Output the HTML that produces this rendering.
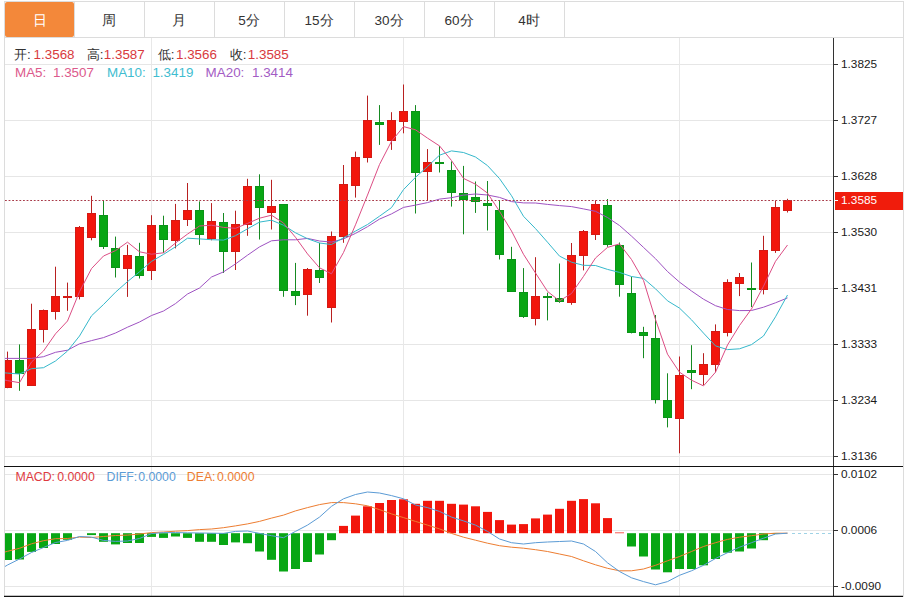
<!DOCTYPE html>
<html><head><meta charset="utf-8">
<style>
html,body{margin:0;padding:0;background:#fff;width:917px;height:597px;overflow:hidden;font-family:"Liberation Sans",sans-serif;}
#tabs{position:absolute;left:4px;top:1px;width:900px;height:37px;border:1px solid #dcdcdc;border-bottom:1px solid #dcdcdc;box-sizing:border-box;}
.tab{position:absolute;top:2px;height:35px;line-height:38px;text-align:center;font-size:13.5px;color:#333;}
.tab.act{background:#f3883a;color:#fff;border-radius:2px;}
.sep{position:absolute;top:1px;width:1px;height:37px;background:#dcdcdc;}
#frame{position:absolute;left:4px;top:37px;width:900px;height:560px;border-left:1px solid #dcdcdc;border-right:1px solid #dcdcdc;box-sizing:border-box;}
svg{position:absolute;left:0;top:0;}
svg text{font-family:"Liberation Sans",sans-serif;}
.lg{position:absolute;font-size:13px;white-space:nowrap;}
</style></head><body>
<div id="frame"></div>
<div id="tabs"></div>
<div class="tab act" style="left:5px;width:69px">日</div><div class="sep" style="left:74px"></div><div class="tab" style="left:74px;width:70px">周</div><div class="sep" style="left:144px"></div><div class="tab" style="left:144px;width:70px">月</div><div class="sep" style="left:214px"></div><div class="tab" style="left:214px;width:70px">5分</div><div class="sep" style="left:284px"></div><div class="tab" style="left:284px;width:70px">15分</div><div class="sep" style="left:354px"></div><div class="tab" style="left:354px;width:70px">30分</div><div class="sep" style="left:424px"></div><div class="tab" style="left:424px;width:70px">60分</div><div class="sep" style="left:494px"></div><div class="tab" style="left:494px;width:70px">4时</div><div class="sep" style="left:564px"></div>
<svg width="917" height="597" viewBox="0 0 917 597">
<line x1="5" y1="64.5" x2="833" y2="64.5" stroke="#e6e6e6" stroke-width="1"/>
<line x1="5" y1="120.5" x2="833" y2="120.5" stroke="#e6e6e6" stroke-width="1"/>
<line x1="5" y1="176.5" x2="833" y2="176.5" stroke="#e6e6e6" stroke-width="1"/>
<line x1="5" y1="232.5" x2="833" y2="232.5" stroke="#e6e6e6" stroke-width="1"/>
<line x1="5" y1="288.5" x2="833" y2="288.5" stroke="#e6e6e6" stroke-width="1"/>
<line x1="5" y1="344.5" x2="833" y2="344.5" stroke="#e6e6e6" stroke-width="1"/>
<line x1="5" y1="400.5" x2="833" y2="400.5" stroke="#e6e6e6" stroke-width="1"/>
<line x1="5" y1="456.5" x2="833" y2="456.5" stroke="#e6e6e6" stroke-width="1"/>
<line x1="5" y1="474.5" x2="833" y2="474.5" stroke="#e6e6e6" stroke-width="1"/>
<line x1="5" y1="530.5" x2="833" y2="530.5" stroke="#e6e6e6" stroke-width="1"/>
<line x1="5" y1="586.5" x2="833" y2="586.5" stroke="#e6e6e6" stroke-width="1"/>
<line x1="151.5" y1="38" x2="151.5" y2="596" stroke="#e8e8e8" stroke-width="1"/>
<line x1="403.5" y1="38" x2="403.5" y2="596" stroke="#e8e8e8" stroke-width="1"/>
<line x1="679.5" y1="38" x2="679.5" y2="596" stroke="#e8e8e8" stroke-width="1"/>
<line x1="7.5" y1="351.6" x2="7.5" y2="388.2" stroke="#b82020" stroke-width="1"/>
<rect x="5.5" y="360.5" width="6.0" height="27" fill="#f2160c" stroke="#d41a14" stroke-width="1"/>
<line x1="19.5" y1="344.4" x2="19.5" y2="390.8" stroke="#168a22" stroke-width="1"/>
<rect x="15.5" y="360.5" width="8.0" height="13" fill="#08a614" stroke="#0a9418" stroke-width="1"/>
<line x1="31.5" y1="303.7" x2="31.5" y2="385.6" stroke="#b82020" stroke-width="1"/>
<rect x="27.5" y="329.5" width="8.0" height="56" fill="#f2160c" stroke="#d41a14" stroke-width="1"/>
<line x1="43.5" y1="309.5" x2="43.5" y2="342.5" stroke="#b82020" stroke-width="1"/>
<rect x="39.5" y="310.5" width="8.0" height="19" fill="#f2160c" stroke="#d41a14" stroke-width="1"/>
<line x1="55.5" y1="266.7" x2="55.5" y2="319.6" stroke="#b82020" stroke-width="1"/>
<rect x="51.5" y="296.5" width="8.0" height="15" fill="#f2160c" stroke="#d41a14" stroke-width="1"/>
<line x1="67.5" y1="282.6" x2="67.5" y2="310.8" stroke="#b82020" stroke-width="1"/>
<rect x="63.5" y="296.5" width="8.0" height="1" fill="#f2160c" stroke="#d41a14" stroke-width="1"/>
<line x1="79.5" y1="226.0" x2="79.5" y2="299.4" stroke="#b82020" stroke-width="1"/>
<rect x="75.5" y="227.5" width="8.0" height="69" fill="#f2160c" stroke="#d41a14" stroke-width="1"/>
<line x1="91.5" y1="195.8" x2="91.5" y2="240.3" stroke="#b82020" stroke-width="1"/>
<rect x="87.5" y="213.5" width="8.0" height="24" fill="#f2160c" stroke="#d41a14" stroke-width="1"/>
<line x1="103.5" y1="200.0" x2="103.5" y2="249.0" stroke="#168a22" stroke-width="1"/>
<rect x="99.5" y="215.5" width="8.0" height="31" fill="#08a614" stroke="#0a9418" stroke-width="1"/>
<line x1="115.5" y1="236.6" x2="115.5" y2="277.5" stroke="#168a22" stroke-width="1"/>
<rect x="111.5" y="248.5" width="8.0" height="19" fill="#08a614" stroke="#0a9418" stroke-width="1"/>
<line x1="127.5" y1="244.9" x2="127.5" y2="296.9" stroke="#b82020" stroke-width="1"/>
<rect x="123.5" y="255.5" width="8.0" height="13" fill="#f2160c" stroke="#d41a14" stroke-width="1"/>
<line x1="139.5" y1="242.8" x2="139.5" y2="278.5" stroke="#168a22" stroke-width="1"/>
<rect x="135.5" y="256.5" width="8.0" height="19" fill="#08a614" stroke="#0a9418" stroke-width="1"/>
<line x1="151.5" y1="215.2" x2="151.5" y2="280.0" stroke="#b82020" stroke-width="1"/>
<rect x="147.5" y="225.5" width="8.0" height="45" fill="#f2160c" stroke="#d41a14" stroke-width="1"/>
<line x1="163.5" y1="215.7" x2="163.5" y2="252.9" stroke="#168a22" stroke-width="1"/>
<rect x="159.5" y="225.5" width="8.0" height="14" fill="#08a614" stroke="#0a9418" stroke-width="1"/>
<line x1="175.5" y1="203.9" x2="175.5" y2="248.4" stroke="#b82020" stroke-width="1"/>
<rect x="171.5" y="220.5" width="8.0" height="20" fill="#f2160c" stroke="#d41a14" stroke-width="1"/>
<line x1="187.5" y1="183.0" x2="187.5" y2="226.0" stroke="#b82020" stroke-width="1"/>
<rect x="183.5" y="210.5" width="8.0" height="9" fill="#f2160c" stroke="#d41a14" stroke-width="1"/>
<line x1="199.5" y1="201.4" x2="199.5" y2="244.9" stroke="#168a22" stroke-width="1"/>
<rect x="195.5" y="210.5" width="8.0" height="24" fill="#08a614" stroke="#0a9418" stroke-width="1"/>
<line x1="211.5" y1="203.1" x2="211.5" y2="240.3" stroke="#b82020" stroke-width="1"/>
<rect x="207.5" y="221.5" width="8.0" height="17" fill="#f2160c" stroke="#d41a14" stroke-width="1"/>
<line x1="223.5" y1="213.0" x2="223.5" y2="273.0" stroke="#168a22" stroke-width="1"/>
<rect x="219.5" y="222.5" width="8.0" height="29" fill="#08a614" stroke="#0a9418" stroke-width="1"/>
<line x1="235.5" y1="210.7" x2="235.5" y2="270.0" stroke="#b82020" stroke-width="1"/>
<rect x="231.5" y="224.5" width="8.0" height="27" fill="#f2160c" stroke="#d41a14" stroke-width="1"/>
<line x1="247.5" y1="178.8" x2="247.5" y2="235.8" stroke="#b82020" stroke-width="1"/>
<rect x="243.5" y="186.5" width="8.0" height="38" fill="#f2160c" stroke="#d41a14" stroke-width="1"/>
<line x1="259.5" y1="174.3" x2="259.5" y2="239.5" stroke="#168a22" stroke-width="1"/>
<rect x="255.5" y="186.5" width="8.0" height="21" fill="#08a614" stroke="#0a9418" stroke-width="1"/>
<line x1="271.5" y1="179.8" x2="271.5" y2="229.5" stroke="#b82020" stroke-width="1"/>
<rect x="267.5" y="206.5" width="8.0" height="6" fill="#f2160c" stroke="#d41a14" stroke-width="1"/>
<line x1="283.5" y1="204.0" x2="283.5" y2="296.8" stroke="#168a22" stroke-width="1"/>
<rect x="279.5" y="204.5" width="8.0" height="86" fill="#08a614" stroke="#0a9418" stroke-width="1"/>
<line x1="295.5" y1="262.9" x2="295.5" y2="305.1" stroke="#168a22" stroke-width="1"/>
<rect x="291.5" y="291.5" width="8.0" height="4" fill="#08a614" stroke="#0a9418" stroke-width="1"/>
<line x1="307.5" y1="268.0" x2="307.5" y2="315.7" stroke="#b82020" stroke-width="1"/>
<rect x="303.5" y="269.5" width="8.0" height="25" fill="#f2160c" stroke="#d41a14" stroke-width="1"/>
<line x1="319.5" y1="242.8" x2="319.5" y2="283.0" stroke="#168a22" stroke-width="1"/>
<rect x="315.5" y="270.5" width="8.0" height="7" fill="#08a614" stroke="#0a9418" stroke-width="1"/>
<line x1="331.5" y1="231.5" x2="331.5" y2="322.5" stroke="#b82020" stroke-width="1"/>
<rect x="327.5" y="236.5" width="8.0" height="71" fill="#f2160c" stroke="#d41a14" stroke-width="1"/>
<line x1="343.5" y1="165.0" x2="343.5" y2="242.8" stroke="#b82020" stroke-width="1"/>
<rect x="339.5" y="184.5" width="8.0" height="52" fill="#f2160c" stroke="#d41a14" stroke-width="1"/>
<line x1="355.5" y1="151.6" x2="355.5" y2="197.6" stroke="#b82020" stroke-width="1"/>
<rect x="351.5" y="157.5" width="8.0" height="28" fill="#f2160c" stroke="#d41a14" stroke-width="1"/>
<line x1="367.5" y1="95.6" x2="367.5" y2="162.5" stroke="#b82020" stroke-width="1"/>
<rect x="363.5" y="120.5" width="8.0" height="37" fill="#f2160c" stroke="#d41a14" stroke-width="1"/>
<line x1="379.5" y1="105.1" x2="379.5" y2="144.9" stroke="#168a22" stroke-width="1"/>
<rect x="375.5" y="122.5" width="8.0" height="2" fill="#08a614" stroke="#0a9418" stroke-width="1"/>
<line x1="391.5" y1="112.2" x2="391.5" y2="149.9" stroke="#b82020" stroke-width="1"/>
<rect x="387.5" y="120.5" width="8.0" height="20" fill="#f2160c" stroke="#d41a14" stroke-width="1"/>
<line x1="403.5" y1="84.5" x2="403.5" y2="133.3" stroke="#b82020" stroke-width="1"/>
<rect x="399.5" y="111.5" width="8.0" height="10" fill="#f2160c" stroke="#d41a14" stroke-width="1"/>
<line x1="415.5" y1="105.1" x2="415.5" y2="213.5" stroke="#168a22" stroke-width="1"/>
<rect x="411.5" y="111.5" width="8.0" height="61" fill="#08a614" stroke="#0a9418" stroke-width="1"/>
<line x1="427.5" y1="149.1" x2="427.5" y2="200.5" stroke="#b82020" stroke-width="1"/>
<rect x="423.5" y="162.5" width="8.0" height="9" fill="#f2160c" stroke="#d41a14" stroke-width="1"/>
<line x1="439.5" y1="145.9" x2="439.5" y2="172.5" stroke="#168a22" stroke-width="1"/>
<rect x="435.5" y="162.5" width="8.0" height="1" fill="#08a614" stroke="#0a9418" stroke-width="1"/>
<line x1="451.5" y1="161.4" x2="451.5" y2="206.6" stroke="#168a22" stroke-width="1"/>
<rect x="447.5" y="170.5" width="8.0" height="22" fill="#08a614" stroke="#0a9418" stroke-width="1"/>
<line x1="463.5" y1="165.9" x2="463.5" y2="234.3" stroke="#168a22" stroke-width="1"/>
<rect x="459.5" y="193.5" width="8.0" height="6" fill="#08a614" stroke="#0a9418" stroke-width="1"/>
<line x1="475.5" y1="181.5" x2="475.5" y2="212.9" stroke="#168a22" stroke-width="1"/>
<rect x="471.5" y="197.5" width="8.0" height="4" fill="#08a614" stroke="#0a9418" stroke-width="1"/>
<line x1="487.5" y1="181.0" x2="487.5" y2="230.5" stroke="#168a22" stroke-width="1"/>
<rect x="483.5" y="203.5" width="8.0" height="2" fill="#08a614" stroke="#0a9418" stroke-width="1"/>
<line x1="499.5" y1="200.3" x2="499.5" y2="259.5" stroke="#168a22" stroke-width="1"/>
<rect x="495.5" y="210.5" width="8.0" height="44" fill="#08a614" stroke="#0a9418" stroke-width="1"/>
<line x1="511.5" y1="246.8" x2="511.5" y2="292.0" stroke="#168a22" stroke-width="1"/>
<rect x="507.5" y="259.5" width="8.0" height="32" fill="#08a614" stroke="#0a9418" stroke-width="1"/>
<line x1="523.5" y1="268.1" x2="523.5" y2="317.9" stroke="#168a22" stroke-width="1"/>
<rect x="519.5" y="292.5" width="8.0" height="24" fill="#08a614" stroke="#0a9418" stroke-width="1"/>
<line x1="535.5" y1="257.2" x2="535.5" y2="325.4" stroke="#b82020" stroke-width="1"/>
<rect x="531.5" y="296.5" width="8.0" height="22" fill="#f2160c" stroke="#d41a14" stroke-width="1"/>
<line x1="547.5" y1="292.7" x2="547.5" y2="320.4" stroke="#168a22" stroke-width="1"/>
<rect x="543.5" y="296.5" width="8.0" height="1" fill="#08a614" stroke="#0a9418" stroke-width="1"/>
<line x1="559.5" y1="263.5" x2="559.5" y2="302.8" stroke="#168a22" stroke-width="1"/>
<rect x="555.5" y="298.5" width="8.0" height="3" fill="#08a614" stroke="#0a9418" stroke-width="1"/>
<line x1="571.5" y1="243.0" x2="571.5" y2="304.8" stroke="#b82020" stroke-width="1"/>
<rect x="567.5" y="255.5" width="8.0" height="47" fill="#f2160c" stroke="#d41a14" stroke-width="1"/>
<line x1="583.5" y1="230.0" x2="583.5" y2="270.4" stroke="#b82020" stroke-width="1"/>
<rect x="579.5" y="231.5" width="8.0" height="24" fill="#f2160c" stroke="#d41a14" stroke-width="1"/>
<line x1="595.5" y1="200.3" x2="595.5" y2="240.0" stroke="#b82020" stroke-width="1"/>
<rect x="591.5" y="204.5" width="8.0" height="30" fill="#f2160c" stroke="#d41a14" stroke-width="1"/>
<line x1="607.5" y1="199.0" x2="607.5" y2="246.8" stroke="#168a22" stroke-width="1"/>
<rect x="603.5" y="205.5" width="8.0" height="39" fill="#08a614" stroke="#0a9418" stroke-width="1"/>
<line x1="619.5" y1="242.5" x2="619.5" y2="296.7" stroke="#168a22" stroke-width="1"/>
<rect x="615.5" y="245.5" width="8.0" height="39" fill="#08a614" stroke="#0a9418" stroke-width="1"/>
<line x1="631.5" y1="276.6" x2="631.5" y2="333.4" stroke="#168a22" stroke-width="1"/>
<rect x="627.5" y="293.5" width="8.0" height="39" fill="#08a614" stroke="#0a9418" stroke-width="1"/>
<line x1="643.5" y1="326.8" x2="643.5" y2="358.2" stroke="#168a22" stroke-width="1"/>
<rect x="639.5" y="332.5" width="8.0" height="3" fill="#08a614" stroke="#0a9418" stroke-width="1"/>
<line x1="655.5" y1="315.0" x2="655.5" y2="403.5" stroke="#168a22" stroke-width="1"/>
<rect x="651.5" y="338.5" width="8.0" height="61" fill="#08a614" stroke="#0a9418" stroke-width="1"/>
<line x1="667.5" y1="373.3" x2="667.5" y2="427.4" stroke="#168a22" stroke-width="1"/>
<rect x="663.5" y="400.5" width="8.0" height="17" fill="#08a614" stroke="#0a9418" stroke-width="1"/>
<line x1="679.5" y1="356.5" x2="679.5" y2="453.3" stroke="#b82020" stroke-width="1"/>
<rect x="675.5" y="375.5" width="8.0" height="43" fill="#f2160c" stroke="#d41a14" stroke-width="1"/>
<line x1="691.5" y1="345.2" x2="691.5" y2="389.2" stroke="#168a22" stroke-width="1"/>
<rect x="687.5" y="370.5" width="8.0" height="2" fill="#08a614" stroke="#0a9418" stroke-width="1"/>
<line x1="703.5" y1="353.2" x2="703.5" y2="385.0" stroke="#b82020" stroke-width="1"/>
<rect x="699.5" y="364.5" width="8.0" height="10" fill="#f2160c" stroke="#d41a14" stroke-width="1"/>
<line x1="715.5" y1="324.4" x2="715.5" y2="372.3" stroke="#b82020" stroke-width="1"/>
<rect x="711.5" y="331.5" width="8.0" height="33" fill="#f2160c" stroke="#d41a14" stroke-width="1"/>
<line x1="727.5" y1="279.3" x2="727.5" y2="336.4" stroke="#b82020" stroke-width="1"/>
<rect x="723.5" y="282.5" width="8.0" height="50" fill="#f2160c" stroke="#d41a14" stroke-width="1"/>
<line x1="739.5" y1="273.0" x2="739.5" y2="296.1" stroke="#b82020" stroke-width="1"/>
<rect x="735.5" y="277.5" width="8.0" height="6" fill="#f2160c" stroke="#d41a14" stroke-width="1"/>
<line x1="751.5" y1="262.5" x2="751.5" y2="307.0" stroke="#168a22" stroke-width="1"/>
<rect x="747.5" y="288.5" width="8.0" height="1" fill="#08a614" stroke="#0a9418" stroke-width="1"/>
<line x1="763.5" y1="235.8" x2="763.5" y2="294.4" stroke="#b82020" stroke-width="1"/>
<rect x="759.5" y="250.5" width="8.0" height="39" fill="#f2160c" stroke="#d41a14" stroke-width="1"/>
<line x1="775.5" y1="200.6" x2="775.5" y2="252.9" stroke="#b82020" stroke-width="1"/>
<rect x="771.5" y="207.5" width="8.0" height="43" fill="#f2160c" stroke="#d41a14" stroke-width="1"/>
<line x1="787.5" y1="198.8" x2="787.5" y2="212.5" stroke="#b82020" stroke-width="1"/>
<rect x="783.5" y="200.5" width="8.0" height="10" fill="#f2160c" stroke="#d41a14" stroke-width="1"/>
<polyline points="5,358.4 7.5,358.4 19.5,358.4 31.5,358.4 43.5,356.7 55.5,352.3 67.5,350.2 79.5,343.8 91.5,340.6 103.5,337.6 115.5,333.0 127.5,327.2 139.5,322.0 151.5,315.5 163.5,311.0 175.5,303.6 187.5,294.0 199.5,288.0 211.5,277.0 223.5,271.9 235.5,263.9 247.5,255.2 259.5,246.9 271.5,240.8 283.5,239.8 295.5,239.8 307.5,238.4 319.5,241.0 331.5,242.1 343.5,238.9 355.5,233.4 367.5,226.7 379.5,219.1 391.5,213.9 403.5,207.4 415.5,205.1 427.5,202.6 439.5,199.1 451.5,197.7 463.5,195.1 475.5,194.0 487.5,195.0 499.5,197.4 511.5,201.6 523.5,202.9 535.5,203.0 547.5,204.4 559.5,205.6 571.5,206.6 583.5,208.9 595.5,211.3 607.5,217.5 619.5,225.5 631.5,236.1 643.5,247.4 655.5,258.7 667.5,271.5 679.5,282.1 691.5,291.0 703.5,299.2 715.5,305.7 727.5,309.5 739.5,310.6 751.5,310.5 763.5,307.2 775.5,302.8 787.5,297.9" fill="none" stroke="#9e52c2" stroke-width="1.0" stroke-linejoin="round"/>
<polyline points="5,372.9 7.5,373.1 19.5,374.0 31.5,368.7 43.5,367.7 55.5,361.0 67.5,351.0 79.5,336.0 91.5,315.8 103.5,304.5 115.5,292.2 127.5,281.6 139.5,271.8 151.5,261.4 163.5,254.4 175.5,246.8 187.5,238.2 199.5,238.9 211.5,239.7 223.5,240.1 235.5,235.7 247.5,228.8 259.5,222.1 271.5,220.2 283.5,225.2 295.5,232.8 307.5,238.7 319.5,243.0 331.5,244.5 343.5,237.8 355.5,231.1 367.5,224.5 379.5,216.2 391.5,207.6 403.5,189.6 415.5,177.3 427.5,166.6 439.5,155.2 451.5,150.9 463.5,152.5 475.5,157.0 487.5,165.6 499.5,178.6 511.5,195.7 523.5,216.3 535.5,228.6 547.5,242.2 559.5,256.1 571.5,262.2 583.5,265.3 595.5,265.5 607.5,269.4 619.5,272.4 631.5,276.5 643.5,278.4 655.5,288.8 667.5,300.8 679.5,308.1 691.5,319.8 703.5,333.1 715.5,345.9 727.5,349.6 739.5,348.8 751.5,344.6 763.5,336.0 775.5,316.8 787.5,295.0" fill="none" stroke="#35b8cb" stroke-width="1.0" stroke-linejoin="round"/>
<polyline points="5,380.1 7.5,380.6 19.5,382.7 31.5,362.0 43.5,351.0 55.5,333.8 67.5,321.0 79.5,291.7 91.5,268.6 103.5,256.0 115.5,250.6 127.5,242.2 139.5,251.8 151.5,254.2 163.5,252.8 175.5,243.0 187.5,234.1 199.5,226.0 211.5,225.2 223.5,227.4 235.5,228.3 247.5,223.4 259.5,218.2 271.5,215.2 283.5,223.0 295.5,237.3 307.5,253.9 319.5,267.8 331.5,273.8 343.5,252.5 355.5,224.8 367.5,195.1 379.5,164.5 391.5,141.3 403.5,126.6 415.5,129.8 427.5,138.1 439.5,145.9 451.5,160.5 463.5,178.4 475.5,184.2 487.5,193.1 499.5,211.3 511.5,231.0 523.5,254.3 535.5,273.0 547.5,291.4 559.5,300.9 571.5,293.5 583.5,276.4 595.5,258.0 607.5,247.4 619.5,243.9 631.5,259.5 643.5,280.4 655.5,319.5 667.5,354.2 679.5,372.2 691.5,380.2 703.5,385.9 715.5,372.2 727.5,345.0 739.5,325.5 751.5,308.9 763.5,286.2 775.5,261.3 787.5,245.0" fill="none" stroke="#dc4d84" stroke-width="1.0" stroke-linejoin="round"/>
<line x1="5" y1="200.5" x2="833" y2="200.5" stroke="#a83a48" stroke-width="1" stroke-dasharray="1.8,1.8"/>
<rect x="5" y="533.2" width="7.0" height="26.8" fill="#08a614"/>
<rect x="15.0" y="533.2" width="9.0" height="26.3" fill="#08a614"/>
<rect x="27.0" y="533.2" width="9.0" height="18.7" fill="#08a614"/>
<rect x="39.0" y="533.2" width="9.0" height="14.8" fill="#08a614"/>
<rect x="51.0" y="533.2" width="9.0" height="10.8" fill="#08a614"/>
<rect x="63.0" y="533.2" width="9.0" height="6.6" fill="#08a614"/>
<rect x="87.0" y="533.2" width="9.0" height="1.9" fill="#08a614"/>
<rect x="99.0" y="533.2" width="9.0" height="8.6" fill="#08a614"/>
<rect x="111.0" y="533.2" width="9.0" height="11.2" fill="#08a614"/>
<rect x="123.0" y="533.2" width="9.0" height="9.8" fill="#08a614"/>
<rect x="135.0" y="533.2" width="9.0" height="9.8" fill="#08a614"/>
<rect x="147.0" y="533.2" width="9.0" height="3.7" fill="#08a614"/>
<rect x="159.0" y="533.2" width="9.0" height="4.7" fill="#08a614"/>
<rect x="171.0" y="533.2" width="9.0" height="3.3" fill="#08a614"/>
<rect x="183.0" y="533.2" width="9.0" height="4.7" fill="#08a614"/>
<rect x="195.0" y="533.2" width="9.0" height="8.6" fill="#08a614"/>
<rect x="207.0" y="533.2" width="9.0" height="8.6" fill="#08a614"/>
<rect x="219.0" y="533.2" width="9.0" height="11.8" fill="#08a614"/>
<rect x="231.0" y="533.2" width="9.0" height="9.2" fill="#08a614"/>
<rect x="243.0" y="533.2" width="9.0" height="10.0" fill="#08a614"/>
<rect x="255.0" y="533.2" width="9.0" height="18.3" fill="#08a614"/>
<rect x="267.0" y="533.2" width="9.0" height="26.6" fill="#08a614"/>
<rect x="279.0" y="533.2" width="9.0" height="38.3" fill="#08a614"/>
<rect x="291.0" y="533.2" width="9.0" height="35.8" fill="#08a614"/>
<rect x="303.0" y="533.2" width="9.0" height="28.8" fill="#08a614"/>
<rect x="315.0" y="533.2" width="9.0" height="21.3" fill="#08a614"/>
<rect x="327.0" y="533.2" width="9.0" height="7.0" fill="#08a614"/>
<rect x="339.0" y="525.9" width="9.0" height="7.3" fill="#f2160c"/>
<rect x="351.0" y="515.6" width="9.0" height="17.6" fill="#f2160c"/>
<rect x="363.0" y="506.3" width="9.0" height="26.9" fill="#f2160c"/>
<rect x="375.0" y="503.0" width="9.0" height="30.2" fill="#f2160c"/>
<rect x="387.0" y="500.0" width="9.0" height="33.2" fill="#f2160c"/>
<rect x="399.0" y="499.3" width="9.0" height="33.9" fill="#f2160c"/>
<rect x="411.0" y="503.8" width="9.0" height="29.4" fill="#f2160c"/>
<rect x="423.0" y="500.8" width="9.0" height="32.4" fill="#f2160c"/>
<rect x="435.0" y="500.8" width="9.0" height="32.4" fill="#f2160c"/>
<rect x="447.0" y="503.8" width="9.0" height="29.4" fill="#f2160c"/>
<rect x="459.0" y="504.6" width="9.0" height="28.6" fill="#f2160c"/>
<rect x="471.0" y="506.3" width="9.0" height="26.9" fill="#f2160c"/>
<rect x="483.0" y="511.9" width="9.0" height="21.3" fill="#f2160c"/>
<rect x="495.0" y="520.1" width="9.0" height="13.1" fill="#f2160c"/>
<rect x="507.0" y="524.6" width="9.0" height="8.6" fill="#f2160c"/>
<rect x="519.0" y="524.1" width="9.0" height="9.1" fill="#f2160c"/>
<rect x="531.0" y="518.4" width="9.0" height="14.8" fill="#f2160c"/>
<rect x="543.0" y="514.6" width="9.0" height="18.6" fill="#f2160c"/>
<rect x="555.0" y="508.8" width="9.0" height="24.4" fill="#f2160c"/>
<rect x="567.0" y="500.8" width="9.0" height="32.4" fill="#f2160c"/>
<rect x="579.0" y="499.1" width="9.0" height="34.1" fill="#f2160c"/>
<rect x="591.0" y="503.3" width="9.0" height="29.9" fill="#f2160c"/>
<rect x="603.0" y="518.1" width="9.0" height="15.1" fill="#f2160c"/>
<rect x="615.0" y="532.5" width="9.0" height="0.7" fill="#f2160c"/>
<rect x="627.0" y="533.2" width="9.0" height="13.3" fill="#08a614"/>
<rect x="639.0" y="533.2" width="9.0" height="23.3" fill="#08a614"/>
<rect x="651.0" y="533.2" width="9.0" height="36.3" fill="#08a614"/>
<rect x="663.0" y="533.2" width="9.0" height="39.1" fill="#08a614"/>
<rect x="675.0" y="533.2" width="9.0" height="35.8" fill="#08a614"/>
<rect x="687.0" y="533.2" width="9.0" height="35.8" fill="#08a614"/>
<rect x="699.0" y="533.2" width="9.0" height="32.1" fill="#08a614"/>
<rect x="711.0" y="533.2" width="9.0" height="25.8" fill="#08a614"/>
<rect x="723.0" y="533.2" width="9.0" height="19.5" fill="#08a614"/>
<rect x="735.0" y="533.2" width="9.0" height="18.3" fill="#08a614"/>
<rect x="747.0" y="533.2" width="9.0" height="15.3" fill="#08a614"/>
<rect x="759.0" y="533.2" width="9.0" height="7.0" fill="#08a614"/>
<rect x="771.0" y="533.2" width="9.0" height="0.8" fill="#08a614"/>
<line x1="792" y1="533.5" x2="833" y2="533.5" stroke="#9fd3e6" stroke-width="1" stroke-dasharray="3,3"/>
<polyline points="5,552.0 7.5,551.3 19.5,548.3 31.5,543.8 43.5,540.7 55.5,538.7 67.5,538.5 79.5,537.1 91.5,537.5 103.5,536.5 115.5,535.5 127.5,535.1 139.5,534.0 151.5,532.6 163.5,532.0 175.5,531.2 187.5,530.6 199.5,529.6 211.5,529.0 223.5,527.7 235.5,525.9 247.5,523.9 259.5,521.4 271.5,518.1 283.5,515.1 295.5,510.9 307.5,507.6 319.5,504.6 331.5,502.6 343.5,502.6 355.5,503.8 367.5,505.8 379.5,509.6 391.5,513.9 403.5,517.6 415.5,521.4 427.5,525.1 439.5,528.9 451.5,533.4 463.5,537.2 475.5,540.2 487.5,543.2 499.5,545.7 511.5,547.2 523.5,548.2 535.5,549.7 547.5,551.5 559.5,554.0 571.5,556.5 583.5,560.8 595.5,564.8 607.5,568.3 619.5,570.8 631.5,570.8 643.5,569.0 655.5,565.3 667.5,560.8 679.5,556.5 691.5,551.5 703.5,546.5 715.5,542.7 727.5,539.4 739.5,537.2 751.5,535.7 763.5,534.0 775.5,533.2 787.5,533.2" fill="none" stroke="#ed7d31" stroke-width="1.0" stroke-linejoin="round"/>
<polyline points="5,566.5 7.5,565.0 19.5,559.0 31.5,552.5 43.5,547.5 55.5,542.5 67.5,540.4 79.5,536.5 91.5,537.1 103.5,540.4 115.5,541.4 127.5,541.0 139.5,538.5 151.5,533.6 163.5,532.6 175.5,532.6 187.5,532.8 199.5,533.0 211.5,533.2 223.5,533.4 235.5,531.4 247.5,531.0 259.5,533.4 271.5,535.7 283.5,537.7 295.5,531.4 307.5,525.1 319.5,517.1 331.5,506.3 343.5,498.8 355.5,494.5 367.5,492.0 379.5,493.0 391.5,495.6 403.5,498.8 415.5,505.0 427.5,507.6 439.5,511.4 451.5,517.1 463.5,520.9 475.5,525.1 487.5,531.4 499.5,539.0 511.5,542.7 523.5,544.0 535.5,542.7 547.5,542.0 559.5,541.5 571.5,541.0 583.5,544.0 595.5,551.5 607.5,562.8 619.5,571.5 631.5,577.8 643.5,581.6 655.5,584.8 667.5,581.6 679.5,575.3 691.5,570.8 703.5,565.3 715.5,558.5 727.5,552.7 739.5,547.2 751.5,542.7 763.5,538.2 775.5,534.0 787.5,533.2" fill="none" stroke="#5b9bd5" stroke-width="1.0" stroke-linejoin="round"/>
<line x1="833.5" y1="38" x2="833.5" y2="597" stroke="#333" stroke-width="1"/>
<line x1="4" y1="466.5" x2="903" y2="466.5" stroke="#111" stroke-width="1.2"/>
<line x1="4" y1="596.5" x2="903" y2="596.5" stroke="#111" stroke-width="1.5"/>
<line x1="834" y1="64.5" x2="838" y2="64.5" stroke="#333" stroke-width="1"/>
<text x="841" y="68.3" font-size="11.8" fill="#1a1a1a">1.3825</text>
<line x1="834" y1="120.5" x2="838" y2="120.5" stroke="#333" stroke-width="1"/>
<text x="841" y="124.3" font-size="11.8" fill="#1a1a1a">1.3727</text>
<line x1="834" y1="176.5" x2="838" y2="176.5" stroke="#333" stroke-width="1"/>
<text x="841" y="180.3" font-size="11.8" fill="#1a1a1a">1.3628</text>
<line x1="834" y1="232.5" x2="838" y2="232.5" stroke="#333" stroke-width="1"/>
<text x="841" y="236.3" font-size="11.8" fill="#1a1a1a">1.3530</text>
<line x1="834" y1="288.5" x2="838" y2="288.5" stroke="#333" stroke-width="1"/>
<text x="841" y="292.3" font-size="11.8" fill="#1a1a1a">1.3431</text>
<line x1="834" y1="344.5" x2="838" y2="344.5" stroke="#333" stroke-width="1"/>
<text x="841" y="348.3" font-size="11.8" fill="#1a1a1a">1.3333</text>
<line x1="834" y1="400.5" x2="838" y2="400.5" stroke="#333" stroke-width="1"/>
<text x="841" y="404.3" font-size="11.8" fill="#1a1a1a">1.3234</text>
<line x1="834" y1="456.5" x2="838" y2="456.5" stroke="#333" stroke-width="1"/>
<text x="841" y="460.3" font-size="11.8" fill="#1a1a1a">1.3136</text>
<line x1="834" y1="474.5" x2="838" y2="474.5" stroke="#333" stroke-width="1"/>
<text x="841" y="478.3" font-size="11.8" fill="#1a1a1a">0.0102</text>
<line x1="834" y1="530.5" x2="838" y2="530.5" stroke="#333" stroke-width="1"/>
<text x="841" y="534.3" font-size="11.8" fill="#1a1a1a">0.0006</text>
<line x1="834" y1="586.5" x2="838" y2="586.5" stroke="#333" stroke-width="1"/>
<text x="841" y="590.3" font-size="11.8" fill="#1a1a1a">-0.0090</text>
<rect x="835" y="192" width="68" height="18" fill="#f01c0c"/>
<line x1="834" y1="200.5" x2="838" y2="200.5" stroke="#fff" stroke-width="1"/>
<text x="841" y="204.3" font-size="11.8" fill="#fff">1.3585</text>
</svg>
<svg width="917" height="597" style="position:absolute;left:0;top:0"><text id="s0" x="14.0" y="58.8" font-size="13.4" fill="#333">开:</text><text id="s1" x="33.6" y="59.2" font-size="13.4" fill="#d83a3e">1.3568</text><text id="s2" x="86.8" y="58.8" font-size="13.4" fill="#333">高:</text><text id="s3" x="103.8" y="59.2" font-size="13.4" fill="#d83a3e">1.3587</text><text id="s4" x="157.8" y="58.8" font-size="13.4" fill="#333">低:</text><text id="s5" x="176.0" y="59.2" font-size="13.4" fill="#d83a3e">1.3566</text><text id="s6" x="229.8" y="58.8" font-size="13.4" fill="#333">收:</text><text id="s7" x="247.8" y="59.2" font-size="13.4" fill="#d83a3e">1.3585</text><text id="s8" x="15.0" y="76.8" font-size="13.4" fill="#dc5a8c">MA5:</text><text id="s9" x="53.0" y="76.8" font-size="13.4" fill="#dc5a8c">1.3507</text><text id="s10" x="107.0" y="76.8" font-size="13.4" fill="#3fbdd0">MA10:</text><text id="s11" x="152.4" y="76.8" font-size="13.4" fill="#3fbdd0">1.3419</text><text id="s12" x="205.6" y="76.8" font-size="13.4" fill="#a35cc4">MA20:</text><text id="s13" x="252.0" y="76.8" font-size="13.4" fill="#a35cc4">1.3414</text><text id="s14" x="15.4" y="481.4" font-size="12.3" fill="#de3a3e">MACD:</text><text id="s15" x="57.2" y="481.4" font-size="12.3" fill="#de3a3e">0.0000</text><text id="s16" x="106.5" y="481.4" font-size="12.3" fill="#5b9bd5">DIFF:</text><text id="s17" x="138.2" y="481.4" font-size="12.3" fill="#5b9bd5">0.0000</text><text id="s18" x="186.8" y="481.4" font-size="12.3" fill="#ed7d31">DEA:</text><text id="s19" x="216.9" y="481.4" font-size="12.3" fill="#ed7d31">0.0000</text></svg>
</body></html>
